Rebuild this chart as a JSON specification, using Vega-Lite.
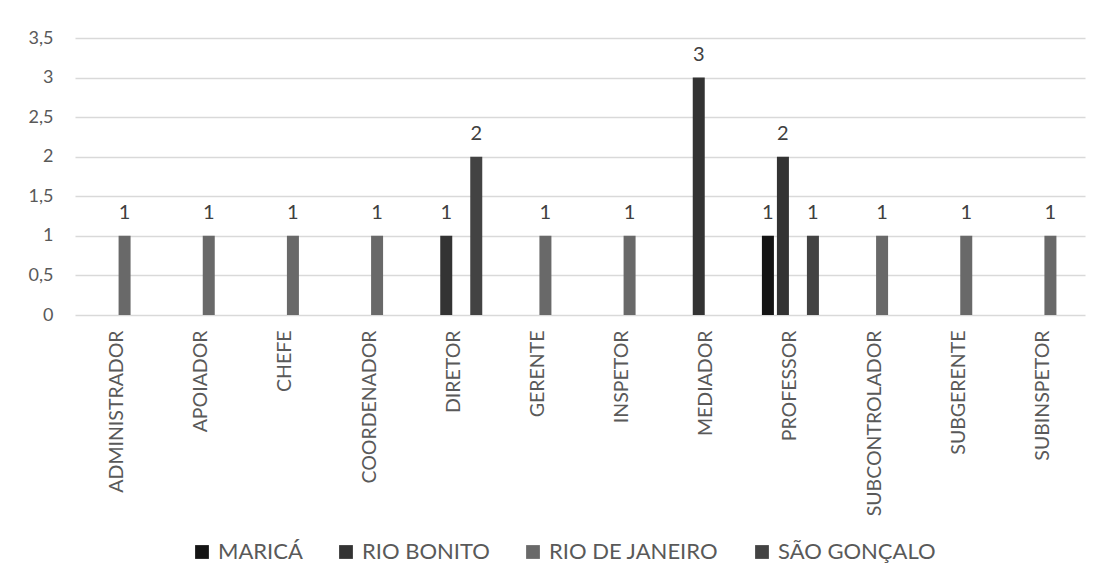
{
  "$schema": "https://vega.github.io/schema/vega-lite/v6.json",
  "width": 1010,
  "height": 277,
  "autosize": "none",
  "padding": {"left": 75, "top": 38, "right": 12, "bottom": 272},
  "background": "white",
  "config": {"font": "Lato", "view": {"stroke": null}},
  "data": {
    "values": [
      {"cargo": "ADMINISTRADOR", "cidade": "RIO DE JANEIRO", "n": 1},
      {"cargo": "APOIADOR", "cidade": "RIO DE JANEIRO", "n": 1},
      {"cargo": "CHEFE", "cidade": "RIO DE JANEIRO", "n": 1},
      {"cargo": "COORDENADOR", "cidade": "RIO DE JANEIRO", "n": 1},
      {"cargo": "DIRETOR", "cidade": "RIO BONITO", "n": 1},
      {"cargo": "DIRETOR", "cidade": "SÃO GONÇALO", "n": 2},
      {"cargo": "GERENTE", "cidade": "RIO DE JANEIRO", "n": 1},
      {"cargo": "INSPETOR", "cidade": "RIO DE JANEIRO", "n": 1},
      {"cargo": "MEDIADOR", "cidade": "RIO BONITO", "n": 3},
      {"cargo": "PROFESSOR", "cidade": "MARICÁ", "n": 1},
      {"cargo": "PROFESSOR", "cidade": "RIO BONITO", "n": 2},
      {"cargo": "PROFESSOR", "cidade": "SÃO GONÇALO", "n": 1},
      {"cargo": "SUBCONTROLADOR", "cidade": "RIO DE JANEIRO", "n": 1},
      {"cargo": "SUBGERENTE", "cidade": "RIO DE JANEIRO", "n": 1},
      {"cargo": "SUBINSPETOR", "cidade": "RIO DE JANEIRO", "n": 1}
    ]
  },
  "encoding": {
    "x": {
      "field": "cargo",
      "type": "nominal",
      "sort": ["ADMINISTRADOR", "APOIADOR", "CHEFE", "COORDENADOR", "DIRETOR", "GERENTE", "INSPETOR", "MEDIADOR", "PROFESSOR", "SUBCONTROLADOR", "SUBGERENTE", "SUBINSPETOR"],
      "scale": {"paddingInner": 0.287, "paddingOuter": 0.1435},
      "axis": {
        "title": null,
        "labelAngle": -90,
        "ticks": false,
        "domain": false,
        "labelPadding": 15,
        "labelFontSize": 19.5,
        "labelLimit": 400,
        "labelColor": "#595959"
      }
    },
    "xOffset": {
      "field": "cidade",
      "type": "nominal",
      "scale": {"domain": ["MARICÁ", "RIO BONITO", "RIO DE JANEIRO", "SÃO GONÇALO"], "paddingInner": 0.2, "paddingOuter": 0.1}
    },
    "y": {
      "field": "n",
      "type": "quantitative",
      "scale": {"domain": [0, 3.5]},
      "axis": {
        "title": null,
        "values": [0, 0.5, 1, 1.5, 2, 2.5, 3, 3.5],
        "labelExpr": "replace(format(datum.value, '~g'), '.', ',')",
        "domain": false,
        "ticks": false,
        "labelPadding": 22,
        "labelFontSize": 18,
        "labelColor": "#595959",
        "gridColor": "#d9d9d9",
        "gridWidth": 1.5
      }
    }
  },
  "layer": [
    {
      "mark": {"type": "bar"},
      "encoding": {
        "color": {
          "field": "cidade",
          "type": "nominal",
          "scale": {
            "domain": ["MARICÁ", "RIO BONITO", "RIO DE JANEIRO", "SÃO GONÇALO"],
            "range": ["#141414", "#333333", "#696969", "#434343"]
          },
          "legend": {
            "title": null,
            "orient": "none",
            "legendX": 116,
            "legendY": 503,
            "direction": "horizontal",
            "symbolType": "square",
            "symbolSize": 190,
            "symbolStrokeWidth": 0,
            "labelFontSize": 22,
            "labelLimit": 400,
            "labelColor": "#595959",
            "labelOffset": 5,
            "columnPadding": 32
          }
        }
      }
    },
    {
      "mark": {"type": "text", "dy": -17, "baseline": "alphabetic", "fontSize": 20, "color": "#404040"},
      "encoding": {"text": {"field": "n", "type": "quantitative"}}
    }
  ]
}
